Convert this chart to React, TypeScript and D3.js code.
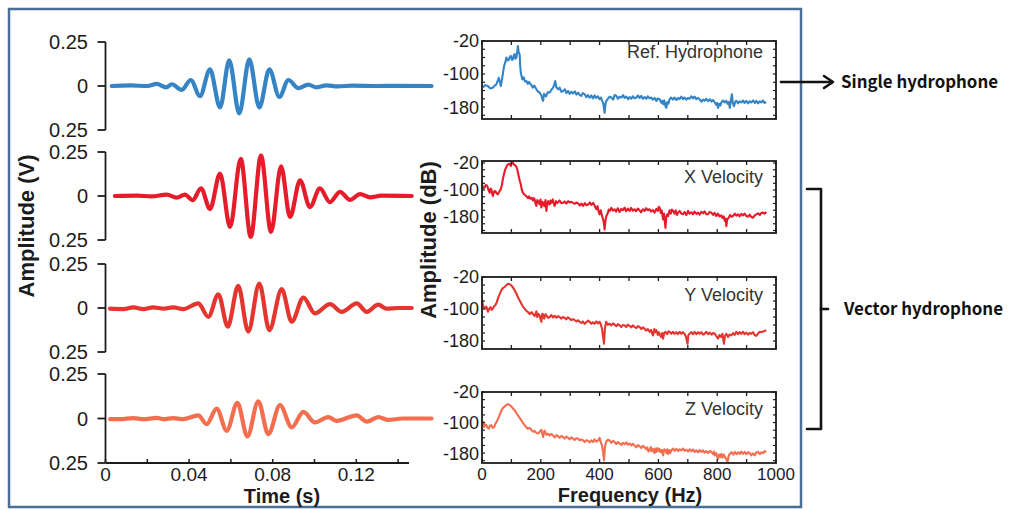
import React from 'react';
import * as d3 from 'd3';

// time axis (s) and voltage ticks for the waveform column
const timeTicks = [0, 0.04, 0.08, 0.12];
const timeMinorTicks = [0, 0.02, 0.04, 0.06, 0.08, 0.1, 0.12, 0.14];
const voltTicks = [0.25, 0, -0.25];
const voltTickLabels = ['0.25', '0', '0.25'];

// frequency axis (Hz) and dB ticks for the spectrum column
const freqTicks = [0, 200, 400, 600, 800, 1000];
const freqMinorTicks = [0, 100, 200, 300, 400, 500, 600, 700, 800, 900, 1000];
const dbTicks = [-20, -100, -180];

const channelNames = ['Ref. Hydrophone', 'X Velocity', 'Y Velocity', 'Z Velocity'];
const channelColors = ['#3584c6', '#e61c2b', '#e4352f', '#f36d4f'];

// waveforms: [time s, amplitude V] read at the extrema
const refWave: [number, number][] = [
  [0.003, 0], [0.012, 0.003], [0.02, 0], [0.0245, 0.012], [0.029, -0.008], [0.0317, 0.01],
  [0.0365, -0.022], [0.0408, 0.034], [0.0452, -0.058], [0.05, 0.094], [0.0548, -0.122],
  [0.0592, 0.146], [0.064, -0.156], [0.0688, 0.151], [0.0736, -0.122], [0.0784, 0.094],
  [0.0832, -0.062], [0.0875, 0.034], [0.0923, -0.012], [0.097, 0.008], [0.101, -0.008],
  [0.1058, 0.004], [0.111, -0.002], [0.118, 0.002], [0.13, 0], [0.14, 0.001], [0.156, 0],
];
const xWave: [number, number][] = [
  [0.0045, 0], [0.015, 0.002], [0.022, -0.002], [0.0293, 0.008], [0.0341, -0.009],
  [0.038, 0.008], [0.0417, -0.024], [0.0457, 0.044], [0.05, -0.074], [0.0548, 0.127],
  [0.0596, -0.176], [0.0647, 0.211], [0.0695, -0.232], [0.0744, 0.23], [0.0792, -0.204],
  [0.084, 0.168], [0.0883, -0.119], [0.0931, 0.089], [0.0978, -0.063], [0.1026, 0.043],
  [0.1074, -0.035], [0.1122, 0.024], [0.117, -0.022], [0.1218, 0.011], [0.1266, -0.008],
  [0.132, 0.002], [0.1465, 0],
];
const yWave: [number, number][] = [
  [0.0022, -0.004], [0.0085, -0.006], [0.0133, 0.004], [0.0181, -0.006], [0.0229, 0.004],
  [0.0277, -0.004], [0.0324, 0.004], [0.0372, -0.006], [0.0444, 0.026], [0.0492, -0.05],
  [0.054, 0.078], [0.0585, -0.106], [0.0635, 0.126], [0.0683, -0.134], [0.0736, 0.139],
  [0.0784, -0.126], [0.0843, 0.107], [0.0891, -0.078], [0.0947, 0.059], [0.1002, -0.031],
  [0.1074, 0.022], [0.113, -0.022], [0.1202, 0.026], [0.125, -0.022], [0.1305, 0.019],
  [0.1345, -0.004], [0.14, 0], [0.1465, 0],
];
const zWave: [number, number][] = [
  [0.0022, -0.003], [0.0069, -0.004], [0.0133, 0.002], [0.0181, -0.004], [0.0245, 0.003],
  [0.0277, -0.004], [0.0324, 0.002], [0.0372, -0.004], [0.0444, 0.018], [0.0484, -0.032],
  [0.0532, 0.056], [0.058, -0.069], [0.0631, 0.088], [0.0679, -0.101], [0.0731, 0.097],
  [0.0779, -0.088], [0.0835, 0.075], [0.0891, -0.05], [0.0947, 0.037], [0.1002, -0.022],
  [0.1066, 0.008], [0.1106, -0.013], [0.1202, 0.018], [0.125, -0.018], [0.1305, 0.008],
  [0.1353, -0.008], [0.142, 0], [0.156, 0],
];

// spectra: [frequency Hz, amplitude dB]
const refSpec: [number, number][] = [
  [3, -133], [10, -127], [20, -129], [28, -135], [37, -133], [43, -128], [49, -125], [57, -109],
  [61, -120], [64, -129], [68, -113], [75, -81], [80, -70], [83, -60], [87, -67], [91, -66],
  [95, -58], [98, -56], [102, -66], [105, -64], [108, -55], [111, -52], [114, -63], [117, -60],
  [120, -45], [122, -32], [125, -48], [128, -52], [130, -80], [132, -97], [137, -113], [142, -108],
  [146, -118], [151, -117], [156, -124], [160, -119], [168, -127], [173, -133], [178, -128],
  [185, -137], [190, -142], [196, -145], [202, -152], [205, -160], [208, -165], [211, -148],
  [213, -149], [218, -154], [224, -144], [230, -145], [236, -138], [242, -133], [246, -125],
  [249, -117], [253, -132], [259, -137], [264, -133], [270, -143], [276, -141], [282, -137],
  [287, -146], [293, -141], [298, -148], [304, -143], [310, -147], [316, -142], [321, -150],
  [327, -145], [333, -151], [338, -153], [343, -146], [349, -149], [355, -156], [360, -151],
  [366, -157], [372, -152], [377, -159], [383, -152], [388, -158], [394, -154], [400, -161],
  [405, -157], [409, -166], [412, -169], [415, -184], [417, -194], [420, -172], [423, -165],
  [428, -160], [434, -155], [440, -157], [446, -162], [451, -151], [457, -153], [462, -160],
  [468, -155], [474, -157], [480, -151], [485, -158], [491, -155], [497, -161], [502, -156],
  [508, -160], [513, -154], [519, -159], [525, -157], [531, -152], [536, -158], [542, -153],
  [547, -160], [553, -156], [559, -160], [564, -154], [570, -159], [576, -157], [581, -162],
  [587, -158], [593, -165], [598, -159], [604, -161], [610, -170], [613, -165], [616, -173],
  [620, -164], [624, -178], [627, -182], [630, -168], [634, -172], [638, -161], [643, -157],
  [649, -162], [655, -157], [661, -163], [667, -158], [672, -161], [678, -155], [684, -161],
  [689, -157], [695, -162], [700, -158], [706, -160], [712, -154], [718, -159], [723, -155],
  [729, -161], [735, -158], [740, -161], [746, -167], [752, -162], [757, -165], [763, -160],
  [769, -166], [775, -161], [781, -167], [786, -163], [792, -169], [797, -175], [800, -170],
  [803, -182], [807, -172], [811, -176], [814, -169], [820, -164], [825, -169], [831, -165],
  [835, -172], [839, -168], [843, -182], [846, -165], [850, -149], [853, -170], [857, -178],
  [861, -168], [865, -165], [871, -171], [876, -166], [882, -169], [888, -164], [893, -170],
  [899, -165], [905, -171], [911, -166], [916, -169], [922, -164], [928, -170], [933, -165],
  [939, -171], [945, -166], [950, -169], [956, -164], [961, -170], [967, -168],
];
const xSpec: [number, number][] = [
  [0, -83], [4, -95], [9, -93], [13, -85], [18, -88], [22, -100], [26, -108], [29, -96],
  [32, -98], [35, -112], [37, -118], [41, -105], [45, -103], [50, -110], [54, -113], [59, -104],
  [64, -98], [68, -84], [71, -68], [75, -52], [79, -39], [84, -30], [88, -24], [93, -22],
  [98, -29], [101, -20], [105, -19], [109, -25], [113, -27], [117, -31], [120, -39], [125, -59],
  [128, -72], [132, -83], [135, -98], [139, -108], [145, -114], [151, -118], [156, -124],
  [160, -119], [164, -126], [168, -123], [173, -131], [176, -124], [179, -128], [182, -140],
  [185, -147], [188, -130], [191, -133], [196, -142], [199, -128], [202, -152], [205, -135],
  [208, -138], [212, -148], [216, -130], [219, -162], [222, -140], [225, -133], [230, -143],
  [233, -131], [236, -138], [241, -128], [244, -140], [247, -147], [252, -133], [255, -139],
  [259, -136], [264, -131], [270, -139], [276, -138], [281, -134], [287, -140], [293, -133],
  [298, -137], [304, -135], [310, -138], [316, -141], [321, -137], [327, -140], [333, -146],
  [338, -140], [344, -147], [350, -139], [355, -145], [361, -143], [367, -137], [372, -144],
  [378, -138], [383, -146], [386, -152], [389, -157], [393, -148], [397, -165], [400, -172],
  [404, -160], [408, -176], [412, -187], [415, -200], [417, -217], [420, -190], [423, -177],
  [428, -168], [431, -158], [434, -162], [440, -153], [445, -161], [451, -157], [456, -164],
  [462, -154], [468, -165], [474, -156], [479, -160], [485, -152], [490, -163], [496, -155],
  [502, -162], [507, -153], [513, -161], [519, -157], [524, -163], [530, -155], [536, -160],
  [541, -166], [547, -157], [553, -162], [558, -154], [564, -160], [570, -157], [575, -164],
  [581, -159], [587, -167], [593, -156], [598, -162], [601, -150], [604, -152], [608, -168],
  [611, -160], [616, -187], [619, -170], [622, -195], [624, -212], [627, -180], [630, -172],
  [633, -177], [638, -160], [642, -170], [646, -158], [650, -162], [655, -170], [659, -160],
  [663, -174], [667, -167], [672, -162], [678, -170], [684, -172], [689, -165], [695, -174],
  [701, -162], [706, -170], [712, -166], [718, -172], [723, -164], [729, -171], [735, -167],
  [740, -173], [746, -165], [752, -169], [757, -163], [763, -172], [769, -172], [774, -165],
  [780, -167], [786, -174], [791, -168], [797, -177], [802, -170], [808, -178], [814, -175],
  [818, -183], [822, -178], [826, -192], [829, -185], [831, -207], [834, -188], [839, -182],
  [844, -174], [849, -180], [854, -177], [860, -170], [865, -176], [871, -172], [876, -178],
  [882, -171], [888, -175], [893, -170], [899, -177], [905, -179], [910, -173], [916, -180],
  [922, -182], [927, -176], [933, -172], [939, -169], [945, -174], [950, -168], [956, -167],
  [961, -170], [967, -165],
];
const ySpec: [number, number][] = [
  [0, -78], [3, -91], [7, -96], [11, -99], [15, -94], [20, -107], [24, -100], [29, -95],
  [33, -102], [37, -99], [41, -93], [45, -91], [50, -84], [54, -74], [60, -63], [66, -53],
  [71, -48], [77, -45], [82, -41], [88, -37], [94, -38], [100, -41], [105, -46], [111, -53],
  [116, -60], [122, -70], [128, -79], [134, -87], [139, -94], [145, -99], [150, -104],
  [156, -107], [162, -113], [168, -108], [173, -112], [179, -118], [185, -106], [188, -120],
  [191, -112], [196, -116], [199, -125], [202, -132], [205, -112], [208, -114], [212, -124],
  [216, -113], [219, -116], [225, -122], [230, -120], [236, -115], [241, -121], [247, -117],
  [253, -122], [258, -118], [264, -120], [270, -124], [275, -120], [281, -122], [287, -126],
  [292, -121], [298, -124], [304, -128], [310, -125], [315, -128], [321, -131], [326, -128],
  [332, -132], [338, -135], [343, -131], [349, -137], [355, -133], [361, -129], [366, -132],
  [372, -137], [377, -133], [383, -137], [389, -131], [394, -136], [400, -132], [404, -138],
  [408, -149], [412, -170], [415, -187], [418, -150], [422, -132], [428, -139], [434, -137],
  [440, -141], [446, -136], [451, -139], [457, -143], [462, -138], [468, -141], [474, -145],
  [479, -140], [485, -141], [491, -145], [496, -139], [502, -142], [508, -146], [513, -141],
  [519, -145], [525, -148], [530, -143], [536, -145], [542, -150], [547, -146], [553, -149],
  [558, -154], [564, -150], [570, -157], [575, -152], [579, -162], [582, -166], [586, -150],
  [590, -158], [593, -153], [598, -165], [601, -158], [604, -162], [609, -170], [613, -160],
  [616, -174], [620, -160], [624, -157], [630, -163], [634, -156], [638, -157], [644, -162],
  [649, -157], [655, -162], [661, -158], [666, -163], [672, -157], [678, -162], [683, -158],
  [689, -162], [694, -170], [697, -180], [699, -187], [702, -165], [706, -162], [712, -158],
  [718, -163], [723, -157], [729, -163], [735, -158], [740, -162], [746, -158], [752, -164],
  [757, -162], [763, -157], [769, -163], [775, -159], [781, -164], [786, -160], [792, -162],
  [797, -168], [803, -174], [808, -165], [814, -170], [818, -162], [821, -178], [823, -187],
  [826, -168], [831, -162], [837, -170], [842, -164], [848, -166], [854, -160], [859, -165],
  [865, -157], [871, -163], [876, -158], [882, -162], [888, -157], [893, -163], [899, -159],
  [905, -164], [910, -160], [916, -162], [922, -158], [927, -165], [933, -167], [939, -161],
  [945, -157], [950, -158], [956, -156], [961, -155], [967, -153],
];
const zSpec: [number, number][] = [
  [0, -103], [4, -98], [7, -112], [11, -105], [15, -107], [19, -114], [23, -116], [27, -108],
  [32, -107], [36, -114], [41, -112], [45, -104], [49, -99], [53, -93], [57, -86], [62, -77],
  [66, -68], [71, -62], [77, -58], [82, -54], [88, -52], [94, -54], [100, -58], [105, -63],
  [111, -68], [116, -74], [122, -81], [128, -88], [134, -94], [139, -101], [145, -107],
  [150, -112], [156, -116], [162, -114], [168, -119], [173, -124], [179, -122], [185, -127],
  [191, -129], [196, -124], [202, -119], [205, -130], [208, -138], [211, -125], [213, -121],
  [219, -132], [225, -129], [230, -134], [236, -130], [242, -134], [247, -139], [253, -133],
  [259, -136], [264, -140], [270, -135], [276, -138], [281, -142], [287, -137], [293, -140],
  [298, -144], [304, -139], [310, -142], [315, -146], [321, -141], [327, -142], [332, -147],
  [338, -144], [344, -147], [349, -151], [355, -146], [361, -148], [366, -152], [372, -147],
  [378, -151], [383, -144], [389, -150], [395, -147], [400, -140], [404, -152], [408, -160],
  [412, -178], [415, -199], [418, -165], [422, -151], [428, -145], [434, -147], [440, -153],
  [446, -148], [451, -151], [457, -156], [462, -151], [468, -155], [474, -159], [479, -153],
  [485, -157], [491, -152], [496, -158], [502, -155], [508, -160], [513, -156], [519, -160],
  [525, -165], [530, -159], [536, -162], [542, -167], [547, -161], [553, -164], [558, -170],
  [562, -165], [566, -176], [570, -173], [574, -164], [578, -175], [582, -169], [587, -180],
  [590, -168], [593, -177], [597, -167], [601, -175], [604, -169], [608, -178], [612, -172],
  [616, -186], [620, -170], [624, -173], [628, -180], [630, -170], [633, -182], [637, -172],
  [640, -180], [644, -173], [650, -168], [655, -174], [661, -169], [667, -175], [672, -170],
  [678, -173], [684, -168], [689, -174], [695, -171], [701, -176], [706, -170], [712, -175],
  [718, -171], [723, -177], [729, -173], [735, -178], [740, -172], [746, -177], [752, -173],
  [757, -179], [763, -175], [769, -180], [775, -174], [780, -177], [786, -183], [789, -176],
  [792, -186], [797, -180], [800, -190], [803, -195], [807, -184], [811, -190], [814, -182],
  [818, -192], [822, -184], [826, -190], [831, -196], [835, -204], [839, -187], [843, -182],
  [849, -178], [855, -184], [860, -177], [866, -183], [871, -178], [877, -182], [882, -176],
  [888, -182], [894, -177], [899, -183], [905, -178], [911, -180], [916, -186], [922, -181],
  [928, -186], [933, -178], [939, -177], [945, -183], [950, -178], [956, -180], [961, -175],
  [967, -177],
];

const waves = [refWave, xWave, yWave, zWave];
const spectra = [refSpec, xSpec, ySpec, zSpec];

// layout
const FONT = "'Liberation Sans', Arial, sans-serif";
const INK = '#1c1c1c';
const wavePanels = [[42, 130], [152, 240], [264, 352], [374, 463]];
const specPanels = [
  { top: 41, bottom: 119, domain: [-209, -20] },
  { top: 161, bottom: 233, domain: [-227.4, -14.1] },
  { top: 277, bottom: 349, domain: [-200, -20] },
  { top: 392, bottom: 463, domain: [-206, -20] },
];
const titleOffsets = [11, 16, 18, 17];

const tX = d3.scaleLinear().domain([0, 0.1455]).range([105.5, 409.6]);
const fX = d3.scaleLinear().domain([0, 1000]).range([482, 776]);

export default function App() {
  const axisY = tX(0);
  const bottomY = wavePanels[3][1];

  return (
    <svg
      width={1010}
      height={510}
      style={{ position: 'absolute', left: 0, top: 0, background: '#fff' }}
      fontFamily={FONT}
    >
      <rect x={9} y={9} width={792} height={498} fill="#fff" stroke="#4b6e96" strokeWidth={2.5} />

      {/* waveform column */}
      {waves.map((data, i) => {
        const [top, bottom] = wavePanels[i];
        const y = d3.scaleLinear().domain([-0.25, 0.25]).range([bottom, top]);
        const line = d3
          .line<[number, number]>()
          .x((d) => tX(d[0]))
          .y((d) => y(d[1]))
          .curve(d3.curveMonotoneX);
        return (
          <g key={'w' + i}>
            <line x1={axisY} x2={axisY} y1={top} y2={bottom} stroke={INK} strokeWidth={1.8} />
            {voltTicks.map((v, k) => (
              <g key={k}>
                <line x1={axisY - 8} x2={axisY} y1={y(v)} y2={y(v)} stroke={INK} strokeWidth={1.8} />
                <text x={88} y={y(v)} dy="0.36em" textAnchor="end" fontSize={20} fill={INK}>
                  {voltTickLabels[k]}
                </text>
              </g>
            ))}
            <path d={line(data) || ''} fill="none" stroke={channelColors[i]} strokeWidth={4.2}
              strokeLinejoin="round" strokeLinecap="round" />
          </g>
        );
      })}
      <line x1={axisY} x2={409} y1={bottomY} y2={bottomY} stroke={INK} strokeWidth={1.8} />
      {timeMinorTicks.map((t) => (
        <line key={t} x1={tX(t)} x2={tX(t)} y1={bottomY} y2={bottomY - 4} stroke={INK} strokeWidth={1.5} />
      ))}
      {timeTicks.map((t) => (
        <text key={t} x={tX(t)} y={481} textAnchor="middle" fontSize={19} fill={INK}>
          {t === 0 ? '0' : String(t)}
        </text>
      ))}
      <text x={282} y={503} textAnchor="middle" fontSize={20} fontWeight="bold" fill={INK}>
        Time (s)
      </text>
      <text transform="translate(34,226) rotate(-90)" textAnchor="middle" fontSize={22}
        fontWeight="bold" fill={INK}>
        Amplitude (V)
      </text>

      {/* spectrum column */}
      {spectra.map((data, i) => {
        const p = specPanels[i];
        const y = d3.scaleLinear().domain(p.domain).range([p.bottom, p.top]);
        const line = d3
          .line<[number, number]>()
          .x((d) => fX(d[0]))
          .y((d) => y(d[1]));
        const sideTicks = d3.range(-20, p.domain[0], -20);
        const x0 = fX(0);
        const x1 = fX(1000);
        return (
          <g key={'s' + i}>
            <path d={line(data) || ''} fill="none" stroke={channelColors[i]} strokeWidth={2.1}
              strokeLinejoin="round" />
            {freqMinorTicks.map((f) => (
              <g key={f}>
                <line x1={fX(f)} x2={fX(f)} y1={p.top} y2={p.top + 4} stroke={INK} strokeWidth={1.3} />
                <line x1={fX(f)} x2={fX(f)} y1={p.bottom} y2={p.bottom - 4} stroke={INK} strokeWidth={1.3} />
              </g>
            ))}
            {sideTicks.map((v) => (
              <g key={v}>
                <line x1={x0} x2={x0 + 3} y1={y(v)} y2={y(v)} stroke={INK} strokeWidth={1.2} />
                <line x1={x1} x2={x1 - 3} y1={y(v)} y2={y(v)} stroke={INK} strokeWidth={1.2} />
              </g>
            ))}
            <rect x={x0} y={p.top} width={x1 - x0} height={p.bottom - p.top} fill="none"
              stroke={INK} strokeWidth={1.8} />
            {dbTicks.map((v) => (
              <text key={v} x={479} y={y(v)} dy="0.36em" textAnchor="end" fontSize={18} fill={INK}>
                {v}
              </text>
            ))}
            <text x={763} y={p.top + titleOffsets[i]} dy="0.36em" textAnchor="end" fontSize={18}
              fill="#333">
              {channelNames[i]}
            </text>
          </g>
        );
      })}
      {freqTicks.map((f) => (
        <text key={f} x={fX(f)} y={480} textAnchor="middle" fontSize={17} fill={INK}>
          {f}
        </text>
      ))}
      <text x={630} y={502} textAnchor="middle" fontSize={20} fontWeight="bold" fill={INK}>
        Frequency (Hz)
      </text>
      <text transform="translate(436,240) rotate(-90)" textAnchor="middle" fontSize={22}
        fontWeight="bold" fill={INK}>
        Amplitude (dB)
      </text>

      {/* annotations */}
      <g stroke="#111" strokeWidth={2.6} fill="none" strokeLinecap="round" strokeLinejoin="round">
        <line x1={781} x2={832} y1={82} y2={82} />
        <polyline points="824,76 833,82 824,88" />
        <path d="M807,189 H821 V429 H807" />
        <line x1={821} x2={828} y1={309} y2={309} />
      </g>
      <g fontFamily="'Noto Sans CJK KR', 'Noto Sans', sans-serif" fontWeight="bold" fontSize={17} fill="#111">
        <text x={841} y={82} dy="0.35em" textLength={157} lengthAdjust="spacingAndGlyphs">
          Single hydrophone
        </text>
        <text x={844} y={309} dy="0.35em" textLength={159} lengthAdjust="spacingAndGlyphs">
          Vector hydrophone
        </text>
      </g>
    </svg>
  );
}
